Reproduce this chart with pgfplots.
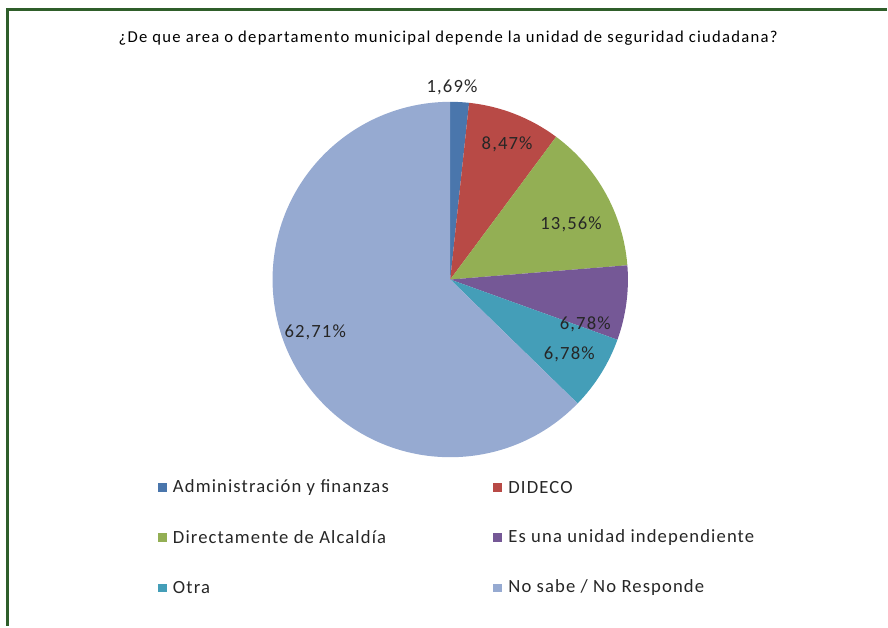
\documentclass[border=0pt]{standalone}
\usepackage{pgfplots}
\pgfplotsset{compat=1.18}
\usepackage{pgfplotstable}
\usepackage{fontspec}
\setmainfont{Carlito}
\newfontfamily\lblfam[LetterSpace=6]{Carlito}
\newfontfamily\ttlfam[LetterSpace=7.6]{Carlito}

\definecolor{pie0}{RGB}{74,118,172}
\definecolor{pie1}{RGB}{184,74,70}
\definecolor{pie2}{RGB}{147,175,84}
\definecolor{pie3}{RGB}{117,88,150}
\definecolor{pie4}{RGB}{68,158,184}
\definecolor{pie5}{RGB}{150,170,209}
\definecolor{frame}{RGB}{47,94,42}

% shares in %, and where Excel put each data label (radius = 1)
\pgfplotstableread{
value lx ly
1.69 0.01 1.08
8.47 0.32 0.76
13.56 0.68 0.31
6.78 0.76 -0.25
6.78 0.67 -0.42
62.71 -0.76 -0.30
}\piedata

\newcommand{\lblfont}{\lblfam\fontsize{14pt}{16pt}\selectfont}

\begin{document}
\begin{tikzpicture}[x=0.75pt,y=0.75pt]
\path (0,0) rectangle (888,627);
% frame
\draw[frame, line width=2.25pt] (7.5,0) -- (7.5,617.5) -- (888,617.5);
% title
\node[font=\ttlfam\fontsize{12.5pt}{14pt}\selectfont] at (449,589)
  {¿De que area o departamento municipal depende la unidad de seguridad ciudadana?};

\begin{axis}[at={(338.25pt,260.25pt)}, anchor=center,
    scale only axis, width=267pt, height=267pt,
    xmin=-1, xmax=1, ymin=-1, ymax=1,
    hide axis, clip=false,
    /pgf/number format/.cd, use comma, fixed, fixed zerofill, precision=2, assume math mode=true]
\pgfplotsextra{
  \pgfplotstablegetrowsof{\piedata}\pgfmathtruncatemacro\last{\pgfplotsretval-1}
  \gdef\cum{0}
  \foreach \i in {0,...,\last}{
    \pgfplotstablegetelem{\i}{value}\of\piedata \let\v\pgfplotsretval
    \pgfmathsetmacro\a{90-3.6*\cum/0.9999}
    \pgfmathsetmacro\b{90-3.6*(\cum+\v)/0.9999}
    \fill[pie\i] (axis cs:0,0) -- (axis cs:{cos(\a)},{sin(\a)})
       arc[start angle=\a, end angle=\b, radius=133.5pt] -- cycle;
    \pgfmathsetmacro\c{\cum+\v}\xdef\cum{\c}
  }
  \foreach \i in {0,...,\last}{
    \pgfplotstablegetelem{\i}{value}\of\piedata \let\v\pgfplotsretval
    \pgfplotstablegetelem{\i}{lx}\of\piedata \let\lx\pgfplotsretval
    \pgfplotstablegetelem{\i}{ly}\of\piedata \let\ly\pgfplotsretval
    \node[font=\lblfont, text=black!85] at (axis cs:\lx,\ly) {\pgfmathprintnumber{\v}\%};
  }
}
\end{axis}

% legend
\foreach \col/\x/\y/\txt in {
  pie0/158/139/{Administración y finanzas},
  pie1/494/139/{DIDECO},
  pie2/158/89/{Directamente de Alcaldía},
  pie3/494/89/{Es una unidad independiente},
  pie4/158/38/{Otra},
  pie5/494/38/{No sabe / No Responde}}{
  \fill[\col] (\x,\y-4.5) rectangle (\x+9,\y+4.5);
  \node[anchor=west, font=\lblfont, text=black!85, inner sep=0pt] at (\x+15,\y) {\txt};
}
\end{tikzpicture}
\end{document}
